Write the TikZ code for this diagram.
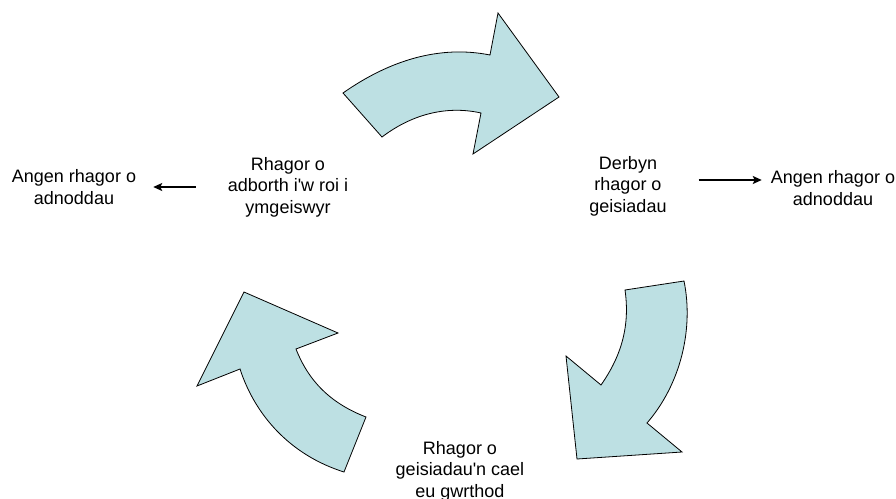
\documentclass[tikz,border=0pt]{standalone}
\usepackage{fontspec}
\setmainfont{Liberation Sans}
\usepackage{tikz}
\usetikzlibrary{arrows.meta}

\begin{document}
\begin{tikzpicture}[x=1pt, y=1pt]
    \definecolor{BDE0E3}{RGB}{189,224,227}
    \useasboundingbox (0,0) rectangle (896,-498);
    \tikzset{lbl/.style={align = center, inner sep=0, font=\fontsize{18}{21.5}\selectfont},
             lnk/.style={-{Stealth[length=9pt, width=8pt, inset=2pt]}, line width=1.6pt}}
    % curved arrows
    \draw [fill=BDE0E3, line width=0.8pt, line join=miter] (343,-93) .. controls (390,-60) and (440,-45) .. (490,-55) -- (498,-13) -- (559,-97) -- (473,-154) -- (481,-113) .. controls (450,-106) and (415,-112) .. (382,-137) -- cycle;
    \draw [fill=BDE0E3, line width=0.8pt, line join=miter] (684,-281) -- (625,-290) .. controls (630,-325) and (622,-355) .. (601,-385) -- (566,-356) -- (577,-459) -- (682,-452) -- (647,-423) .. controls (680,-385) and (694,-330) .. (684,-281) -- cycle;
    \draw [fill=BDE0E3, line width=0.8pt, line join=miter] (244,-292) -- (338,-333) -- (296,-349) .. controls (310,-385) and (335,-405) .. (366,-417) -- (344,-472) .. controls (290,-455) and (255,-415) .. (240,-369) -- (197,-386) -- cycle;
    % labels
    \draw [draw=none] (258,-172) rectangle node(ID_L-1)[lbl] {Rhagor o\\adborth i\textquotesingle w roi i\\ymgeiswyr} (318,-202);
    \draw [draw=none] (44,-172) rectangle node(ID_L-2)[lbl] {Angen rhagor o\\adnoddau} (104,-202);
    \draw [draw=none] (598,-171) rectangle node(ID_R-1)[lbl] {Derbyn\\rhagor o\\geisiadau} (658,-201);
    \draw [draw=none] (803,-173) rectangle node(ID_R-2)[lbl] {Angen rhagor o\\adnoddau} (863,-203);
    \draw [draw=none] (430,-456) rectangle node(ID_B-1)[lbl] {Rhagor o\\geisiadau\textquotesingle n cael\\eu gwrthod} (490,-486);
    % straight arrows
    \draw [lnk, shorten <=32pt, shorten >=17pt] (ID_L-1) -- (ID_L-2);
    \draw [lnk, shorten <=32pt, shorten >=9pt, transform canvas={yshift=6pt}] (ID_R-1.east) -- (ID_R-1.east -| ID_R-2.west);
\end{tikzpicture}
\end{document}
